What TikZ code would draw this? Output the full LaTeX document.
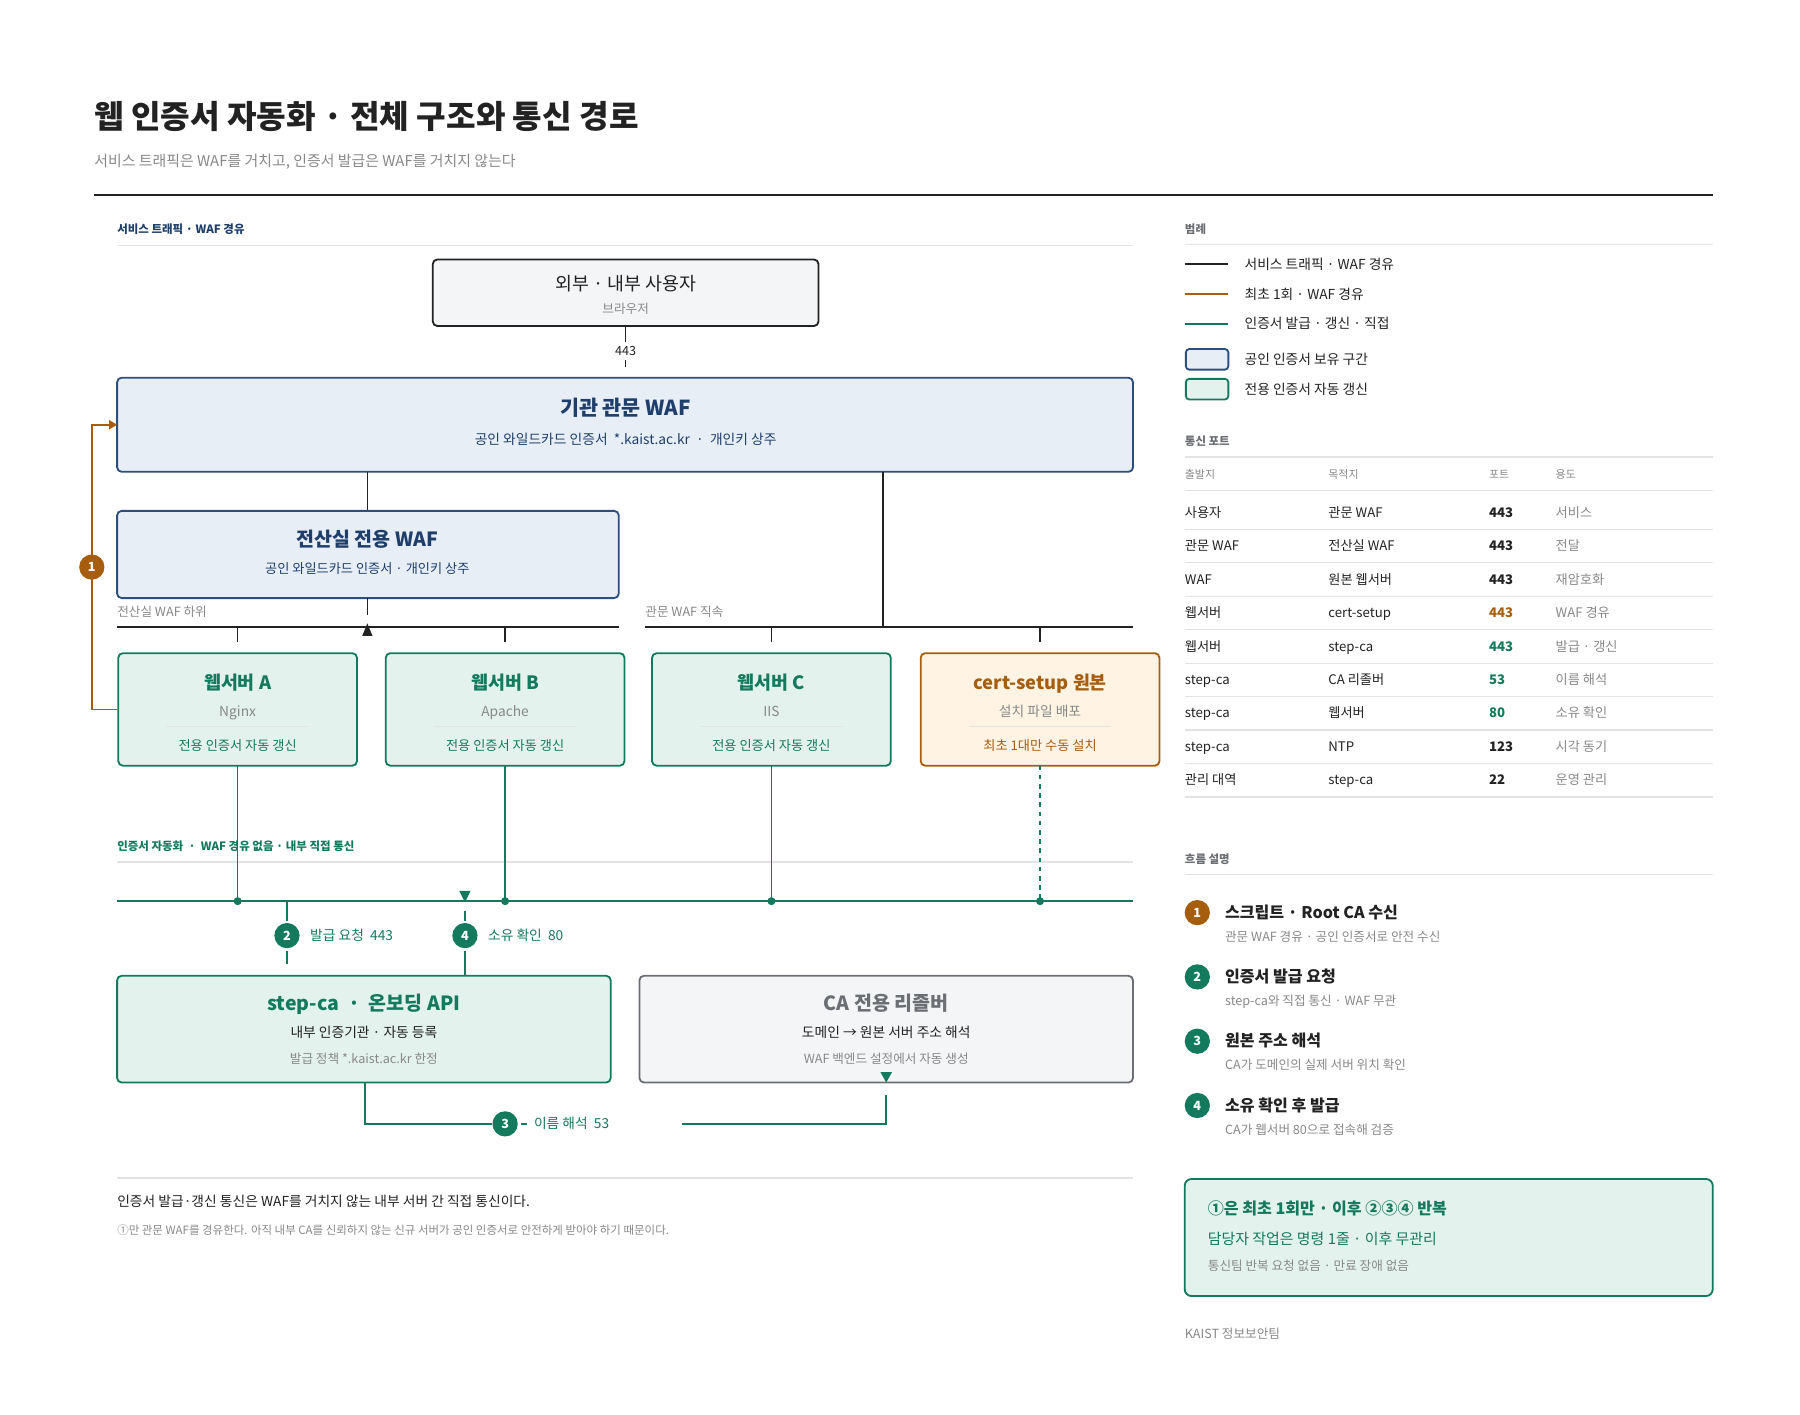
\documentclass[tikz,border=0pt]{standalone}
\usepackage{fontspec}
\setmainfont{Noto Sans CJK KR}
\usetikzlibrary{arrows.meta}
\definecolor{navy}{HTML}{1F3F6A}
\definecolor{navyb}{HTML}{2C4F80}
\definecolor{bluef}{HTML}{E8EEF6}
\definecolor{grn}{HTML}{137A5E}
\definecolor{grnf}{HTML}{E3F2EC}
\definecolor{org}{HTML}{A65E0E}
\definecolor{orgf}{HTML}{FFF3E3}
\definecolor{gryf}{HTML}{F4F5F7}
\definecolor{gryb}{HTML}{6B6E73}
\definecolor{txt}{HTML}{222222}
\definecolor{sub}{HTML}{888888}
\definecolor{rule}{HTML}{E2E3E5}
\newcommand{\fs}[1]{\fontsize{#1}{#1}\selectfont}
\tikzset{
 t/.style={inner sep=0pt,anchor=base},
 tw/.style={inner sep=0pt,anchor=base west},
 box/.style={rounded corners=4pt,line width=1.6pt},
 bluebox/.style={box,draw=navyb,fill=bluef},
 grnbox/.style={box,draw=grn,fill=grnf},
 orgbox/.style={box,draw=org,fill=orgf},
 grybox/.style={box,draw=gryb,fill=gryf},
 blk/.style={line width=1.4pt,draw=txt},
 gl/.style={line width=1.4pt,draw=grn},
 sep/.style={line width=1.2pt,draw=rule},
 badge/.style={circle,inner sep=0pt,minimum size=22pt,text=white,font=\fs{11}\bfseries},
}
\begin{document}
\begin{tikzpicture}[x=1pt,y=-1pt]
\useasboundingbox (-2,-2) rectangle (1566,1230);
% header
\node[tw,text=txt] (title) at (80,110) {\fs{28}\bfseries 웹 인증서 자동화 · 전체 구조와 통신 경로};
\node[tw,text=sub] (subt) at (80,143) {\fs{13}서비스 트래픽은 WAF를 거치고, 인증서 발급은 WAF를 거치지 않는다};
\draw[line width=2pt,txt] (80,168) -- (1490,168);
% section 1
\node[tw,text=navy] (s1) at (100,201) {\fs{10}\bfseries 서비스 트래픽 · WAF 경유};
\draw[sep] (100,212) -- (985,212);
% user
\draw[grybox,draw=txt] (375,224) rectangle (711,282);
\node[t,text=txt] (user) at (543,251) {\fs{16}외부 · 내부 사용자};
\node[t,text=sub] (userb) at (543,271) {\fs{11}브라우저};
\node[t,text=txt] (p443) at (543,308) {\fs{11}443};
\draw[blk] (543,282) -- (543,296);
\draw[blk] (543,312) -- (543,318);
% gate waf
\draw[bluebox] (100,327) rectangle (985,409);
\node[t,text=navy] (gw) at (543,360) {\fs{18}\bfseries 기관 관문 WAF};
\node[t,text=navy] (gws) at (543,385) {\fs{12}공인 와일드카드 인증서 \ *.kaist.ac.kr \ · \ 개인키 상주};
\draw[blk] (318,409) -- (318,443);
\draw[blk] (767,409) -- (767,544);
% center waf
\draw[bluebox] (100,443) rectangle (537,519);
\node[t,text=navy] (cw) at (318,474) {\fs{17}\bfseries 전산실 전용 WAF};
\node[t,text=navy] (cws) at (318,498) {\fs{11.5}공인 와일드카드 인증서 · 개인키 상주};
\draw[blk] (318,519) -- (318,534);
\fill[txt] (318,541) -- (313.5,552) -- (322.5,552) -- cycle;
\node[tw,text=sub] (l1) at (100,535) {\fs{11}전산실 WAF 하위};
\node[tw,text=sub] (l2) at (560,535) {\fs{11}관문 WAF 직속};
\draw[blk] (100,544) -- (537,544);
\draw[blk] (560,544) -- (985,544);
\foreach \x in {205,438,670,904} \draw[blk] (\x,544) -- (\x,557);
% web servers
\foreach \n/\x/\name/\sw in {A/205/웹서버 A/Nginx,B/438/웹서버 B/Apache,C/670/웹서버 C/IIS}{
 \draw[grnbox] (\x-104,567) rectangle (\x+104,665);
 \node[t,text=grn] (ws\n) at (\x,599) {\fs{16}\bfseries \name};
 \node[t,text=sub] (sw\n) at (\x,622) {\fs{12}\sw};
 \draw[sep] (\x-62,631) -- (\x+62,631);
 \node[t,text=grn] (wr\n) at (\x,652) {\fs{11.5}전용 인증서 자동 갱신};
}
\draw[orgbox] (800,567) rectangle (1008,665);
\node[t,text=org] (cs) at (904,599) {\fs{16}\bfseries cert-setup 원본};
\node[t,text=sub] (css) at (904,622) {\fs{12}설치 파일 배포};
\draw[sep] (842,631) -- (966,631);
\node[t,text=org] (csr) at (904,652) {\fs{11.5}최초 1대만 수동 설치};
% orange path
\draw[line width=1.4pt,org,-{Triangle[length=7pt,width=8pt]}] (100,616) -- (78,616) -- (78,368) -- (100,368);
\node[badge,fill=org] (b1) at (78,492) {1};
% section 2
\node[tw,text=grn] (s2) at (100,739) {\fs{10}\bfseries 인증서 자동화 \ · \ WAF 경유 없음 · 내부 직접 통신};
\draw[sep] (100,749) -- (985,749);
\foreach \x in {205,438,670} {\draw[gl,line width=1.2pt] (\x,665) -- (\x,783); \fill[grn] (\x,783) circle (3.5pt);}
\draw[gl,line width=1.2pt,dash pattern=on 4pt off 4pt] (904,665) -- (904,783);
\fill[grn] (904,783) circle (3.5pt);
\draw[gl,line width=2.2pt] (100,783) -- (985,783);
% 2 and 4
\draw[gl] (248,783) -- (248,800);
\node[badge,fill=grn] (b2) at (248,813) {2};
\draw[gl] (248,826) -- (248,838);
\node[tw,text=grn] (l2a) at (268,817) {\fs{12}발급 요청 \ 443};
\fill[grn] (403,784) -- (398,774) -- (408,774) -- cycle;
\draw[gl] (403,792) -- (403,800);
\node[badge,fill=grn] (b4) at (403,813) {4};
\draw[gl] (403,826) -- (403,848);
\node[tw,text=grn] (l4a) at (423,817) {\fs{12}소유 확인 \ 80};
% step-ca
\draw[grnbox] (100,848) rectangle (530,941);
\node[t,text=grn] (sc) at (315,878) {\fs{17}\bfseries step-ca \ · \ 온보딩 API};
\node[t,text=txt] (scs) at (315,902) {\fs{12}내부 인증기관 · 자동 등록};
\node[t,text=sub] (scp) at (315,924) {\fs{11}발급 정책 *.kaist.ac.kr 한정};
% resolver
\draw[grybox] (555,848) rectangle (985,941);
\node[t,text=gryb] (rs) at (770,878) {\fs{17}\bfseries CA 전용 리졸버};
\node[t,text=txt] (rss) at (770,902) {\fs{12}도메인 → 원본 서버 주소 해석};
\node[t,text=sub] (rsp) at (770,924) {\fs{11}WAF 백엔드 설정에서 자동 생성};
\fill[grn] (770,941) -- (765,932) -- (775,932) -- cycle;
% 3 path
\draw[gl] (316,941) -- (316,977) -- (427,977);
\node[badge,fill=grn] (b3) at (438,977) {3};
\draw[gl] (452,977) -- (457,977);
\node[tw,text=grn] (l3a) at (463,981) {\fs{12}이름 해석 \ 53};
\draw[gl] (592,977) -- (770,977) -- (770,952);
% notes
\draw[sep] (100,1024) -- (985,1024);
\node[tw,text=txt] (n1) at (100,1049) {\fs{12}인증서 발급·갱신 통신은 WAF를 거치지 않는 내부 서버 간 직접 통신이다.};
\node[tw,text=sub] (n2) at (100,1073) {\fs{10}①만 관문 WAF를 경유한다. 아직 내부 CA를 신뢰하지 않는 신규 서버가 공인 인증서로 안전하게 받아야 하기 때문이다.};
% legend
\node[tw,text=gryb] (lg) at (1030,201) {\fs{10}\bfseries 범례};
\draw[sep] (1030,211) -- (1490,211);
\draw[line width=1.8pt,txt] (1030,228) -- (1068,228);
\draw[line width=1.8pt,org] (1030,254) -- (1068,254);
\draw[line width=1.8pt,grn] (1030,280) -- (1068,280);
\draw[bluebox,rounded corners=3pt] (1031,302) rectangle (1068,320);
\draw[grnbox,rounded corners=3pt] (1031,328) rectangle (1068,346);
\foreach \y/\s in {228/서비스 트래픽 · WAF 경유,254/최초 1회 · WAF 경유,280/인증서 발급 · 갱신 · 직접,311/공인 인증서 보유 구간,337/전용 인증서 자동 갱신}
 \node[tw,text=txt] at (1082,\y+4.5) {\fs{12}\s};
% ports
\node[tw,text=gryb] (pt) at (1030,386) {\fs{10}\bfseries 통신 포트};
\draw[sep] (1030,396) -- (1490,396);
\foreach \x/\s in {1030/출발지,1155/목적지,1295/포트,1353/용도} \node[tw,text=sub] at (\x,415) {\fs{9.5}\s};
\draw[sep] (1030,425) -- (1490,425);
\foreach \i/\a/\b/\p/\pc/\u in {0/사용자/관문 WAF/443/txt/서비스,1/관문 WAF/전산실 WAF/443/txt/전달,2/WAF/원본 웹서버/443/txt/재암호화,3/웹서버/cert-setup/443/org/WAF 경유,4/웹서버/step-ca/443/grn/발급 · 갱신,5/step-ca/CA 리졸버/53/grn/이름 해석,6/step-ca/웹서버/80/grn/소유 확인,7/step-ca/NTP/123/txt/시각 동기,8/관리 대역/step-ca/22/txt/운영 관리}{
 \pgfmathsetmacro{\yy}{444+29.15*\i}
 \node[tw,text=txt] at (1030,\yy+4.5) {\fs{11.5}\a};
 \node[tw,text=txt] at (1155,\yy+4.5) {\fs{11.5}\b};
 \node[tw,text=\pc] at (1295,\yy+4.5) {\fs{11.5}\bfseries \p};
 \node[tw,text=sub] at (1353,\yy+4.5) {\fs{11.5}\u};
 \draw[line width=1pt,rule] (1030,\yy+15) -- (1490,\yy+15);
}
% flow
\node[tw,text=gryb] (fl) at (1030,750) {\fs{10}\bfseries 흐름 설명};
\draw[sep] (1030,760) -- (1490,760);
\foreach \i/\c/\h/\s in {1/org/스크립트 · Root CA 수신/관문 WAF 경유 · 공인 인증서로 안전 수신,2/grn/인증서 발급 요청/step-ca와 직접 통신 · WAF 무관,3/grn/원본 주소 해석/CA가 도메인의 실제 서버 위치 확인,4/grn/소유 확인 후 발급/CA가 웹서버 80으로 접속해 검증}{
 \pgfmathsetmacro{\yy}{793+56*(\i-1)}
 \node[badge,fill=\c] at (1041,\yy) {\i};
 \node[tw,text=txt] at (1065,\yy+5) {\fs{14}\bfseries \h};
 \node[tw,text=sub] at (1065,\yy+25) {\fs{11}\s};
}
% summary
\draw[grnbox,rounded corners=6pt] (1030,1025) rectangle (1490,1127);
\node[tw,text=grn] (sm1) at (1050,1056) {\fs{14}\bfseries ①은 최초 1회만 · 이후 ②③④ 반복};
\node[tw,text=grn] (sm2) at (1050,1082) {\fs{13}담당자 작업은 명령 1줄 · 이후 무관리};
\node[tw,text=sub] (sm3) at (1050,1105) {\fs{11}통신팀 반복 요청 없음 · 만료 장애 없음};
\node[tw,text=sub] (ft) at (1030,1164) {\fs{11}KAIST 정보보안팀};
\end{tikzpicture}
\end{document}
